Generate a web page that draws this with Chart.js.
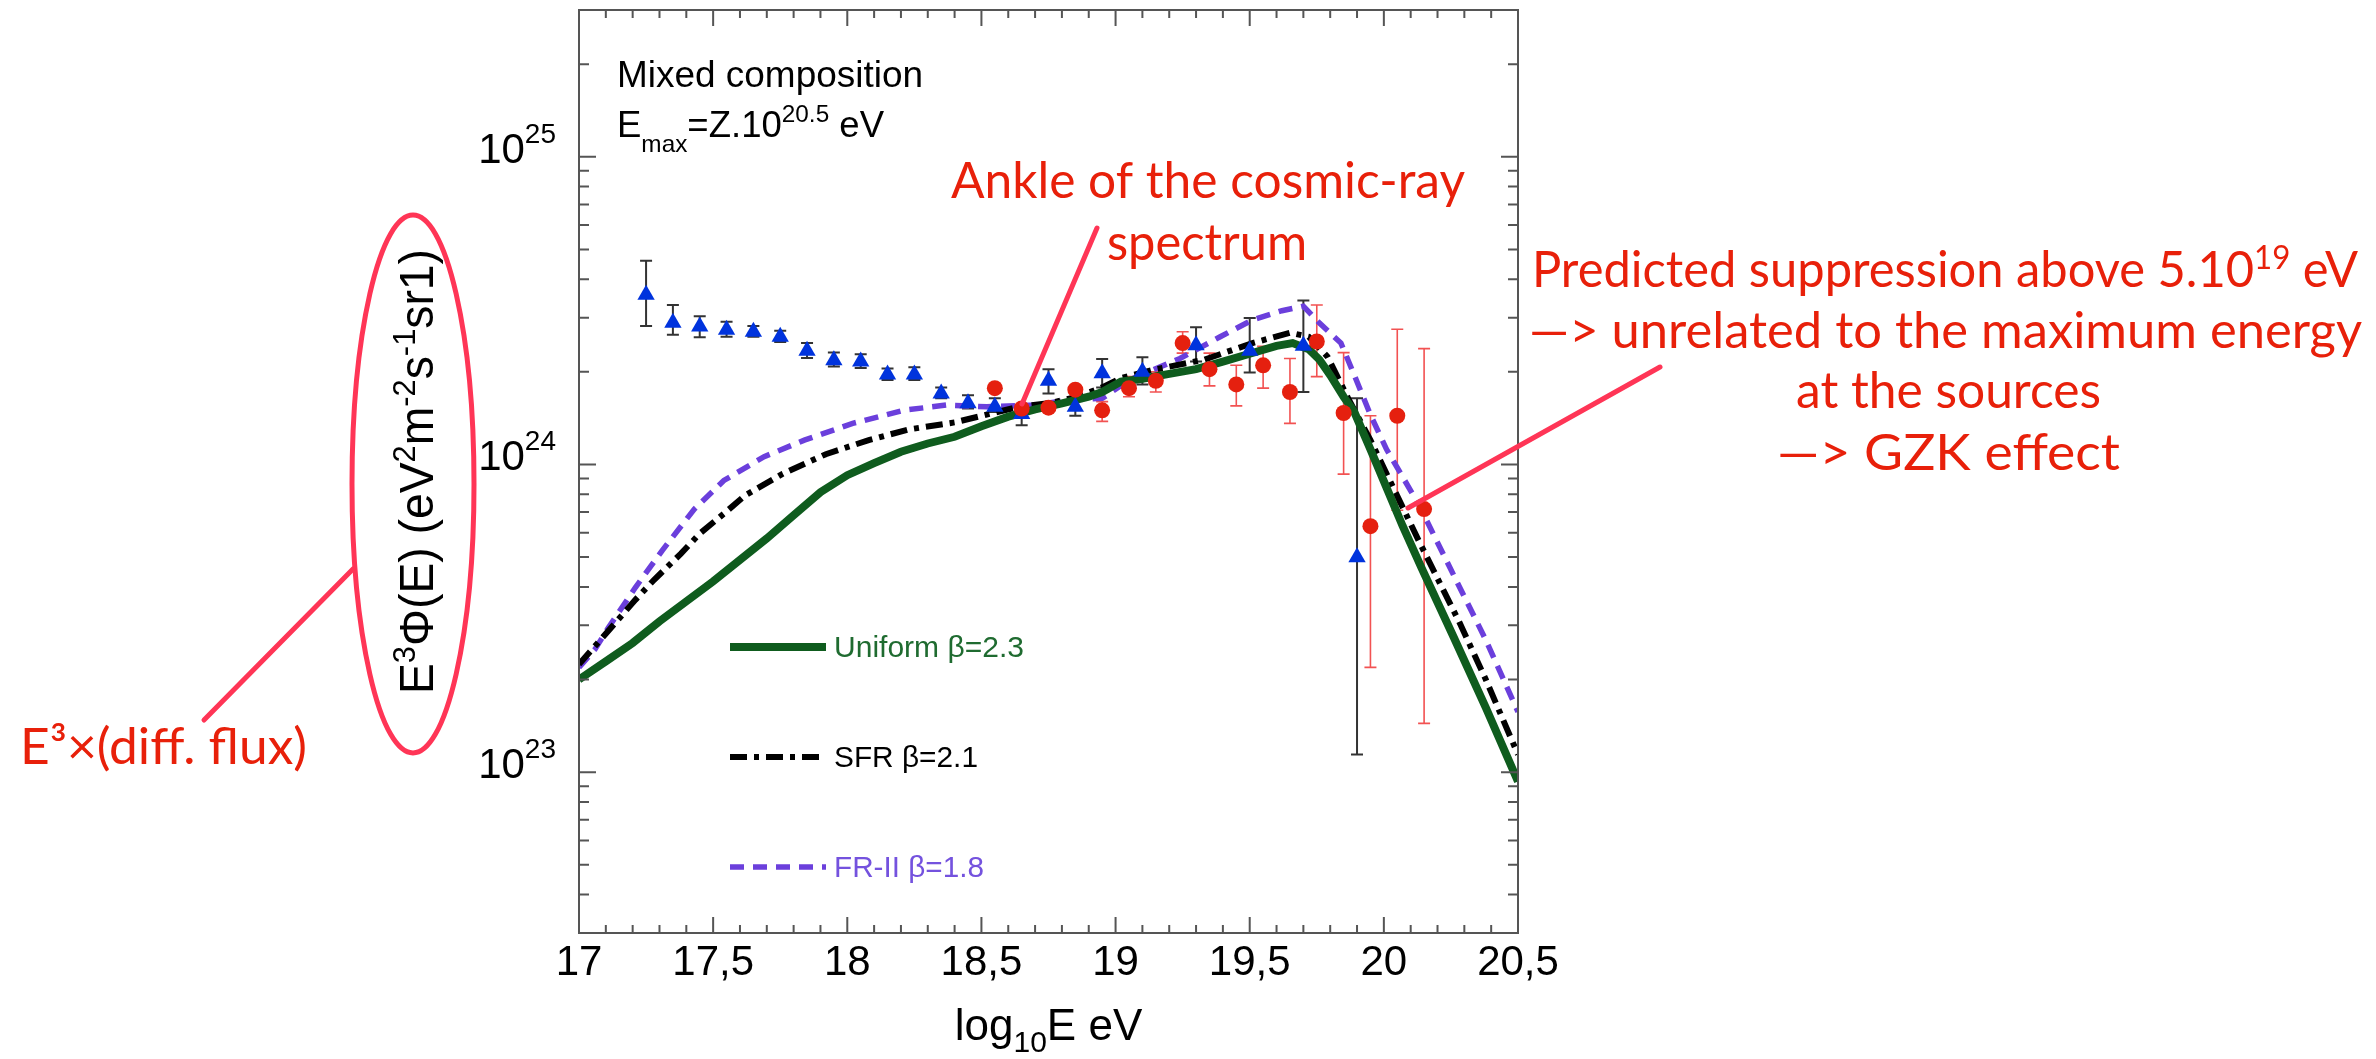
<!DOCTYPE html>
<html>
<head>
<meta charset="utf-8">
<style>
  body { margin: 0; background: #fff; }
  #wrap { width: 2376px; height: 1059px; }
</style>
<script src="https://cdn.jsdelivr.net/npm/chart.js@4.4.1/dist/chart.umd.min.js"></script>
</head>
<body>
<div id="wrap"><canvas id="chart" width="2376" height="1059"></canvas></div>
<script>
// ---- values ----
const xTicks = [17, 17.5, 18, 18.5, 19, 19.5, 20, 20.5];
const xTickText = ['17', '17,5', '18', '18,5', '19', '19,5', '20', '20,5'];
const yTicks = [1e23, 1e24, 1e25];
const yTickExp = ['23', '24', '25'];
const legendLabels = ['Uniform \u03b2=2.3', 'SFR \u03b2=2.1', 'FR-II \u03b2=1.8'];

// model curves
const uniformX = [17.00, 17.10, 17.20, 17.30, 17.40, 17.50, 17.60, 17.70, 17.80, 17.90, 18.00, 18.10, 18.20, 18.30, 18.40, 18.50, 18.60, 18.70, 18.80, 18.90, 18.95, 19.02, 19.10, 19.20, 19.30, 19.40, 19.50, 19.60, 19.66, 19.72, 19.76, 19.80, 19.85, 19.89, 19.95, 20.01, 20.07, 20.14, 20.26, 20.38, 20.50];
const uniformY = [2.00e23, 2.29e23, 2.63e23, 3.09e23, 3.59e23, 4.17e23, 4.90e23, 5.75e23, 6.84e23, 8.13e23, 9.23e23, 1.01e24, 1.10e24, 1.17e24, 1.23e24, 1.33e24, 1.43e24, 1.51e24, 1.58e24, 1.66e24, 1.72e24, 1.86e24, 1.90e24, 1.97e24, 2.04e24, 2.16e24, 2.29e24, 2.43e24, 2.48e24, 2.37e24, 2.19e24, 1.95e24, 1.66e24, 1.48e24, 1.12e24, 8.41e23, 6.31e23, 4.62e23, 2.75e23, 1.62e23, 9.33e22];

const sfrX = [17.00, 17.07, 17.14, 17.21, 17.28, 17.38, 17.45, 17.54, 17.62, 17.76, 17.92, 18.08, 18.23, 18.40, 18.53, 18.64, 18.75, 18.86, 18.95, 19.02, 19.14, 19.33, 19.51, 19.65, 19.72, 19.79, 19.87, 19.95, 20.13, 20.28, 20.38, 20.50];
const sfrY = [2.24e23, 2.63e23, 3.09e23, 3.63e23, 4.22e23, 5.13e23, 5.96e23, 6.92e23, 7.94e23, 9.33e23, 1.08e24, 1.20e24, 1.30e24, 1.37e24, 1.46e24, 1.54e24, 1.58e24, 1.66e24, 1.78e24, 1.91e24, 2.03e24, 2.19e24, 2.48e24, 2.68e24, 2.60e24, 2.24e24, 1.62e24, 1.20e24, 5.65e23, 3.09e23, 2.00e23, 1.14e23];

const fr2X = [17.00, 17.06, 17.11, 17.21, 17.31, 17.39, 17.43, 17.54, 17.69, 17.84, 18.02, 18.21, 18.37, 18.52, 18.70, 18.83, 18.95, 19.05, 19.24, 19.39, 19.51, 19.62, 19.70, 19.76, 19.84, 19.89, 19.95, 20.01, 20.13, 20.26, 20.38, 20.50];
const fr2Y = [2.19e23, 2.51e23, 2.95e23, 3.98e23, 5.25e23, 6.46e23, 7.16e23, 8.87e23, 1.06e24, 1.20e24, 1.36e24, 1.50e24, 1.56e24, 1.54e24, 1.56e24, 1.62e24, 1.64e24, 1.88e24, 2.21e24, 2.60e24, 2.95e24, 3.16e24, 3.27e24, 2.88e24, 2.48e24, 1.95e24, 1.45e24, 1.12e24, 7.41e23, 4.37e23, 2.69e23, 1.57e23];

// measured spectrum, blue triangles
const blueX = [17.25, 17.35, 17.45, 17.55, 17.65, 17.75, 17.85, 17.95, 18.05, 18.15, 18.25, 18.35, 18.45, 18.55, 18.65, 18.75, 18.85, 18.95, 19.10, 19.30, 19.50, 19.70, 19.90];
const blueY = [3.56e24, 2.89e24, 2.81e24, 2.74e24, 2.70e24, 2.60e24, 2.34e24, 2.18e24, 2.16e24, 1.96e24, 1.96e24, 1.70e24, 1.58e24, 1.54e24, 1.46e24, 1.87e24, 1.54e24, 1.98e24, 2.00e24, 2.44e24, 2.34e24, 2.43e24, 4.99e23];
const blueHi = [4.59e24, 3.30e24, 3.03e24, 2.91e24, 2.82e24, 2.72e24, 2.48e24, 2.31e24, 2.28e24, 2.05e24, 2.07e24, 1.78e24, 1.68e24, 1.64e24, 1.54e24, 2.04e24, 1.66e24, 2.20e24, 2.23e24, 2.79e24, 2.99e24, 3.41e24, 1.64e24];
const blueLo = [2.82e24, 2.64e24, 2.59e24, 2.60e24, 2.60e24, 2.50e24, 2.22e24, 2.08e24, 2.06e24, 1.88e24, 1.88e24, 1.64e24, 1.52e24, 1.48e24, 1.34e24, 1.70e24, 1.44e24, 1.78e24, 1.82e24, 2.16e24, 1.99e24, 1.72e24, 1.14e23];

// measured spectrum, red circles
const redX = [18.55, 18.65, 18.75, 18.85, 18.95, 19.05, 19.15, 19.25, 19.35, 19.45, 19.55, 19.65, 19.75, 19.85, 19.95, 20.05, 20.15];
const redY = [1.77e24, 1.52e24, 1.53e24, 1.75e24, 1.50e24, 1.77e24, 1.87e24, 2.48e24, 2.04e24, 1.82e24, 2.10e24, 1.72e24, 2.51e24, 1.47e24, 6.30e23, 1.44e24, 7.16e23];
const redHi = [1.81e24, 1.56e24, 1.57e24, 1.80e24, 1.60e24, 1.93e24, 2.00e24, 2.70e24, 2.30e24, 2.10e24, 2.42e24, 2.21e24, 3.30e24, 2.31e24, 1.44e24, 2.75e24, 2.38e24];
const redLo = [1.73e24, 1.48e24, 1.49e24, 1.70e24, 1.38e24, 1.66e24, 1.72e24, 2.30e24, 1.80e24, 1.55e24, 1.77e24, 1.36e24, 1.93e24, 9.30e23, 2.19e23, 7.10e23, 1.44e23];

const pts = (xs, ys) => xs.map((x, i) => ({ x: x, y: ys[i] }));

const SANS = '"Liberation Sans", Arial, sans-serif';
const GILL = 'Lato, "Open Sans", sans-serif';
const RED_TXT = '#e8200a';
const RED_LINE = '#ff3556';

// text made of runs: [text, size, dy]
function runWidth(ctx, fam, parts) {
  let w = 0;
  for (const p of parts) { ctx.font = p[1] + 'px ' + fam; w += ctx.measureText(p[0]).width; }
  return w;
}
function drawRuns(ctx, fam, parts, x, y, sx) {
  ctx.save();
  ctx.translate(x, y);
  ctx.scale(sx || 1, 1);
  let cx = 0;
  for (const p of parts) {
    ctx.font = p[1] + 'px ' + fam;
    ctx.fillText(p[0], cx, p[2] || 0);
    cx += ctx.measureText(p[0]).width;
  }
  ctx.restore();
}
function fitRuns(ctx, fam, parts, left, baseline, width) {
  drawRuns(ctx, fam, parts, left, baseline, width / runWidth(ctx, fam, parts));
}

const frame = {
  id: 'frame',
  beforeDatasetsDraw(chart) {
    const ctx = chart.ctx, xs = chart.scales.x, ys = chart.scales.y;
    chart.data.datasets.forEach(ds => {
      if (!ds.errHi) return;
      ctx.save();
      ctx.strokeStyle = ds.errColor;
      ctx.lineWidth = ds.errWidth;
      ds.data.forEach((p, j) => {
        const px = xs.getPixelForValue(p.x);
        const top = ys.getPixelForValue(ds.errHi[j]);
        const bot = ys.getPixelForValue(ds.errLo[j]);
        ctx.beginPath();
        ctx.moveTo(px, top); ctx.lineTo(px, bot);
        ctx.moveTo(px - 6, top); ctx.lineTo(px + 6, top);
        ctx.moveTo(px - 6, bot); ctx.lineTo(px + 6, bot);
        ctx.stroke();
      });
      ctx.restore();
    });
  },
  afterDatasetsDraw(chart) {
    const ctx = chart.ctx, xs = chart.scales.x, ys = chart.scales.y, a = chart.chartArea;
    ctx.save();
    ctx.strokeStyle = '#555';
    ctx.lineWidth = 2;
    ctx.strokeRect(a.left, a.top, a.right - a.left, a.bottom - a.top);
    ctx.beginPath();
    for (let k = 0; k <= 35; k++) {
      const px = xs.getPixelForValue(17 + k / 10);
      const len = k % 5 === 0 ? 16 : 8;
      ctx.moveTo(px, a.bottom); ctx.lineTo(px, a.bottom - len);
      ctx.moveTo(px, a.top); ctx.lineTo(px, a.top + len);
    }
    for (let e = 22; e <= 25; e++) {
      for (let m = 1; m <= 9; m++) {
        const v = m * Math.pow(10, e);
        if (v < ys.min * 0.999 || v > ys.max * 1.001) continue;
        const py = ys.getPixelForValue(v);
        const len = m === 1 ? 17 : 10;
        ctx.moveTo(a.left, py); ctx.lineTo(a.left + len, py);
        ctx.moveTo(a.right, py); ctx.lineTo(a.right - len, py);
      }
    }
    ctx.stroke();
    ctx.restore();
  },
  afterDraw(chart) {
    const ctx = chart.ctx, xs = chart.scales.x, ys = chart.scales.y, a = chart.chartArea;
    ctx.save();
    ctx.textAlign = 'left';
    ctx.textBaseline = 'alphabetic';

    // y tick labels 10^n
    ctx.fillStyle = '#000';
    yTicks.forEach((v, i) => {
      const parts = [['10', 42], [yTickExp[i], 28, -20]];
      const w = runWidth(ctx, SANS, parts);
      drawRuns(ctx, SANS, parts, a.left - 23 - w, ys.getPixelForValue(v) + 6);
    });

    // x axis title
    const xt = [['log', 44], ['10', 30, 12], ['E eV', 44]];
    const xw = runWidth(ctx, SANS, xt);
    drawRuns(ctx, SANS, xt, (a.left + a.right) / 2 - xw / 2, 1040);

    // y axis title (rotated)
    const yt = [['E', 48], ['3', 32, -18], ['\u03a6(E) (eV', 48], ['2', 32, -18], ['m', 48], ['-2', 32, -18], ['s', 48], ['-1', 32, -18], ['sr1)', 48]];
    ctx.save();
    ctx.translate(433, 472);
    ctx.rotate(-Math.PI / 2);
    fitRuns(ctx, SANS, yt, -222, 0, 445);
    ctx.restore();

    // text in the plot
    fitRuns(ctx, SANS, [['Mixed composition', 36]], 617, 87, 306);
    fitRuns(ctx, SANS, [['E', 36], ['max', 24, 15], ['=Z.10', 36], ['20.5', 24, -15], [' eV', 36]], 617, 137, 267);

    // legend
    const legendY = [647, 757, 867];
    chart.data.datasets.forEach(ds => {
      if (ds.legendIndex === undefined) return;
      const k = ds.legendIndex;
      ctx.save();
      ctx.strokeStyle = ds.borderColor;
      ctx.lineWidth = ds.borderWidth;
      ctx.setLineDash(ds.borderDash || []);
      ctx.beginPath();
      ctx.moveTo(730, legendY[k]); ctx.lineTo(826, legendY[k]);
      ctx.stroke();
      ctx.restore();
      ctx.fillStyle = ds.legendColor;
      fitRuns(ctx, SANS, [[legendLabels[k], 30]], 834, legendY[k] + 10, [190, 144, 150][k]);
    });

    // red annotations
    ctx.strokeStyle = RED_LINE;
    ctx.lineWidth = 5;
    ctx.lineCap = 'round';
    ctx.beginPath();
    ctx.ellipse(413, 484, 61, 269, 0, 0, Math.PI * 2);
    ctx.stroke();
    ctx.beginPath();
    ctx.moveTo(204, 720); ctx.lineTo(353, 569);
    ctx.moveTo(1097, 228); ctx.lineTo(1022, 404);
    ctx.moveTo(1660, 367); ctx.lineTo(1408, 508);
    ctx.stroke();

    ctx.fillStyle = RED_TXT;
    fitRuns(ctx, GILL, [['E\u00b3\u00d7(diff. flux)', 50]], 20, 764, 287);
    fitRuns(ctx, GILL, [['Ankle of the cosmic-ray', 50]], 951, 198, 514);
    fitRuns(ctx, GILL, [['spectrum', 50]], 1107, 260, 200);
    fitRuns(ctx, GILL, [['Predicted suppression above 5.10', 50], ['19', 32, -18], [' eV', 50]], 1532, 287, 826);
    fitRuns(ctx, GILL, [['\u2014> unrelated to the maximum energy', 50]], 1529, 348, 833);
    fitRuns(ctx, GILL, [['at the sources', 50]], 1796, 408, 305);
    fitRuns(ctx, GILL, [['\u2014> GZK effect', 50]], 1777, 470, 343);
    ctx.restore();
  }
};

new Chart(document.getElementById('chart'), {
  type: 'scatter',
  data: {
    datasets: [
      {
        label: 'red data', data: pts(redX, redY),
        pointStyle: 'circle', pointRadius: 8, pointBackgroundColor: '#e5200f', pointBorderWidth: 0,
        errHi: redHi, errLo: redLo, errColor: '#f25252', errWidth: 1.6
      },
      {
        label: 'blue data', data: pts(blueX, blueY),
        pointStyle: 'triangle', pointRadius: 10, pointBackgroundColor: '#0033dd', pointBorderWidth: 0,
        errHi: blueHi, errLo: blueLo, errColor: '#333', errWidth: 2
      },
      {
        label: legendLabels[0], data: pts(uniformX, uniformY), showLine: true, pointRadius: 0,
        borderColor: '#0f5c1e', borderWidth: 8, legendIndex: 0, legendColor: '#1f6b30'
      },
      {
        label: legendLabels[1], data: pts(sfrX, sfrY), showLine: true, pointRadius: 0,
        borderColor: '#000', borderWidth: 6, borderDash: [17, 7, 5, 7], legendIndex: 1, legendColor: '#000'
      },
      {
        label: legendLabels[2], data: pts(fr2X, fr2Y), showLine: true, pointRadius: 0,
        borderColor: '#6b3fdc', borderWidth: 5.5, borderDash: [14, 9], legendIndex: 2, legendColor: '#7452de'
      }
    ]
  },
  options: {
    responsive: false,
    devicePixelRatio: 1,
    animation: false,
    layout: { padding: { left: 579, right: 858, top: 10, bottom: 0 } },
    plugins: { legend: { display: false }, tooltip: { enabled: false } },
    scales: {
      x: {
        type: 'linear', min: 17, max: 20.5,
        afterBuildTicks: s => { s.ticks = xTicks.map(v => ({ value: v })); },
        afterFit: s => { s.height = 126; },
        grid: { display: false, drawTicks: false },
        border: { display: false },
        ticks: {
          autoSkip: false, maxRotation: 0, padding: 5, color: '#000',
          font: { family: 'Liberation Sans', size: 42 },
          callback: (v, i) => xTickText[i]
        }
      },
      y: {
        type: 'logarithmic', min: 3e22, max: 3e25,
        display: false
      }
    }
  },
  plugins: [frame]
});
</script>
</body>
</html>
